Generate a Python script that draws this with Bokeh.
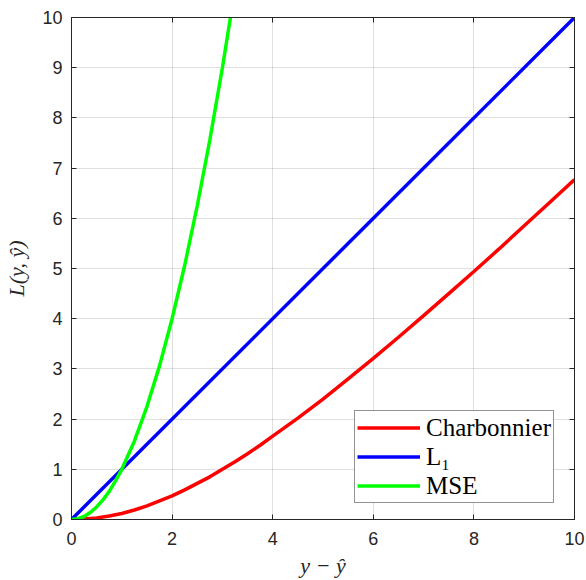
from bokeh.plotting import figure
from bokeh.models import Range1d, LinearAxis, Legend, LegendItem, FixedTicker
from bokeh.embed import file_html
from bokeh.resources import INLINE

# Data
charb_x = [0, 0.25, 0.5, 0.75, 1, 1.25, 1.5, 1.75, 2, 2.25, 2.5, 2.75, 3, 3.25, 3.5, 3.75, 4,
           4.5, 5, 5.5, 6, 6.5, 7, 7.5, 8, 8.5, 9, 9.5, 10]
charb_y = [0, 0.01, 0.03, 0.07, 0.12, 0.19, 0.27, 0.37, 0.47, 0.59, 0.72, 0.85, 1.0, 1.15, 1.31, 1.48, 1.66,
           2.02, 2.40, 2.80, 3.21, 3.63, 4.06, 4.50, 4.94, 5.39, 5.85, 6.31, 6.77]
l1_x = [0, 10]
l1_y = [0, 10]
mse_x = [0, 0.125, 0.25, 0.375, 0.5, 0.625, 0.75, 0.875, 1, 1.25, 1.5, 1.75, 2, 2.25, 2.5, 2.75, 3, 3.16]
mse_y = [0, 0.016, 0.06, 0.14, 0.25, 0.39, 0.56, 0.77, 1.0, 1.56, 2.25, 3.06, 4.0, 5.06, 6.25, 7.56, 9.0, 10.0]
x_ticks = [0, 2, 4, 6, 8, 10]
y_ticks = [0, 1, 2, 3, 4, 5, 6, 7, 8, 9, 10]
labels = ["Charbonnier", "L\u2081", "MSE"]

AX = "#262626"
p = figure(width=586, height=580, output_backend="svg", toolbar_location=None,
           x_range=Range1d(0, 10), y_range=Range1d(0, 10),
           min_border_left=71, min_border_right=12, min_border_top=17, min_border_bottom=60)
p.background_fill_color = "white"
p.border_fill_color = "white"
p.outline_line_color = AX
p.outline_line_width = 1

for ax in p.xaxis + p.yaxis:
    ax.major_tick_in = 5
    ax.major_tick_out = 0
    ax.minor_tick_line_color = None
    ax.axis_line_color = AX
    ax.major_tick_line_color = AX
    ax.major_label_text_font = "Liberation Sans"
    ax.major_label_text_font_size = "18px"
    ax.major_label_text_color = AX
    ax.axis_label_text_font = "Liberation Serif"
    ax.axis_label_text_font_style = "italic"
    ax.axis_label_text_font_size = "22px"
    ax.axis_label_text_color = AX

p.xaxis.ticker = FixedTicker(ticks=x_ticks)
p.yaxis.ticker = FixedTicker(ticks=y_ticks)
p.xaxis.major_label_standoff = 12
p.yaxis.major_label_standoff = 9
p.xaxis.axis_label = "y \u2212 \u0177"
p.yaxis.axis_label = "L(y, \u0177)"
p.xaxis.axis_label_standoff = 5
p.yaxis.axis_label_standoff = 10

# mirrored tick axes (ticks only)
top = LinearAxis(ticker=FixedTicker(ticks=x_ticks))
right = LinearAxis(ticker=FixedTicker(ticks=y_ticks))
for ax, tks in ((top, x_ticks), (right, y_ticks)):
    ax.major_tick_in = 5
    ax.major_tick_out = 0
    ax.minor_tick_line_color = None
    ax.axis_line_color = AX
    ax.major_tick_line_color = AX
    ax.major_label_overrides = {t: "" for t in tks}
    ax.major_label_standoff = 0
p.add_layout(top, "above")
p.add_layout(right, "right")

p.xgrid.ticker = FixedTicker(ticks=x_ticks)
p.ygrid.ticker = FixedTicker(ticks=y_ticks)
p.grid.grid_line_color = AX
p.grid.grid_line_alpha = 0.15
p.grid.grid_line_width = 1

r1 = p.line(charb_x, charb_y, line_color="#FF0000", line_width=3.5)
r2 = p.line(l1_x, l1_y, line_color="#0000FF", line_width=3.5)
r3 = p.line(mse_x, mse_y, line_color="#00FF00", line_width=3.5)

legend = Legend(items=[LegendItem(label=labels[0], renderers=[r1]),
                       LegendItem(label=labels[1], renderers=[r2]),
                       LegendItem(label=labels[2], renderers=[r3])],
                location=(283, 16))
legend.label_text_font = "Liberation Serif"
legend.label_text_font_size = "25px"
legend.label_text_color = "black"
legend.border_line_color = AX
legend.border_line_width = 1
legend.background_fill_color = "white"
legend.background_fill_alpha = 1
legend.padding = 2
legend.margin = 0
legend.spacing = 0
legend.glyph_width = 63
legend.glyph_height = 29
legend.label_height = 29
legend.label_standoff = 6
p.add_layout(legend, "center")

open("out.html", "w").write(file_html(p, INLINE))
